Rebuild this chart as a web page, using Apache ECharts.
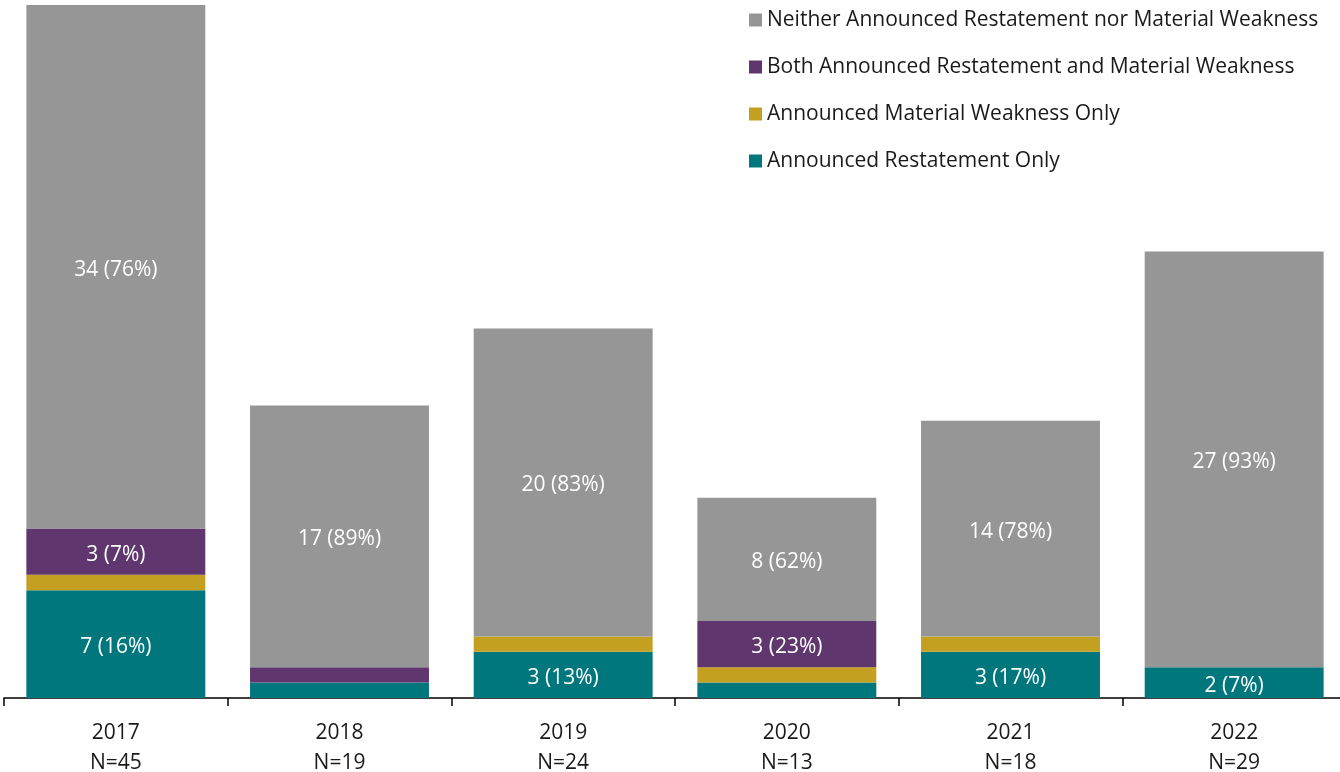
<!DOCTYPE html>
<html>
<head>
<meta charset="utf-8">
<script src="https://cdn.jsdelivr.net/npm/echarts@6/dist/echarts.min.js"></script>
<style>html,body{margin:0;padding:0;background:#fff}#c{width:1340px;height:772px}</style>
</head>
<body>
<div id="c"></div>
<script>
var years = ['2017', '2018', '2019', '2020', '2021', '2022'];
var totals = [45, 19, 24, 13, 18, 29];
var restatementOnly = [7, 1, 3, 1, 3, 2];
var weaknessOnly = [1, 0, 1, 1, 1, 0];
var both = [3, 1, 0, 3, 0, 0];
var neither = [34, 17, 20, 8, 14, 27];

var names = [
  'Announced Restatement Only',
  'Announced Material Weakness Only',
  'Both Announced Restatement and Material Weakness',
  'Neither Announced Restatement nor Material Weakness'
];
var colors = ['#00777d', '#c4a020', '#5f366e', '#969696'];
var values = [restatementOnly, weaknessOnly, both, neither];
var FONT = 'Open Sans';

var categories = years.map(function (y, i) { return y + '\nN=' + totals[i]; });

var series = values.map(function (arr, k) {
  return {
    name: names[k],
    type: 'bar',
    stack: 'total',
    barWidth: '80%',
    data: arr,
    itemStyle: { color: colors[k] },
    label: {
      show: true,
      position: 'inside',
      offset: [0, 3],
      color: '#ffffff',
      fontFamily: FONT,
      fontSize: 21,
      formatter: function (p) {
        if (p.value < 2) return '';
        var pct = Math.round(p.value / totals[p.dataIndex] * 100);
        return p.value + ' (' + pct + '%)';
      }
    }
  };
});

var chart = echarts.init(document.getElementById('c'));
chart.setOption({
  animation: false,
  textStyle: { fontFamily: FONT },
  grid: { left: 4, top: 5, bottom: 74, width: 1342, containLabel: false, outerBoundsMode: 'none' },
  legend: {
    orient: 'vertical',
    left: 744,
    top: 4,
    itemWidth: 13,
    itemHeight: 13,
    itemGap: 25,
    icon: 'rect',
    data: [names[3], names[2], names[1], names[0]],
    textStyle: { fontFamily: FONT, fontSize: 21, lineHeight: 22, color: '#1a1a1a' }
  },
  xAxis: {
    type: 'category',
    data: categories,
    axisLine: { lineStyle: { color: '#000', width: 1.5 } },
    axisTick: { show: true, length: 8, lineStyle: { color: '#000', width: 1.5 } },
    axisLabel: { color: '#1a1a1a', fontFamily: FONT, fontSize: 21, lineHeight: 30, margin: 20, interval: 0 }
  },
  yAxis: {
    type: 'value',
    min: 0,
    max: 45,
    show: false,
    splitLine: { show: false }
  },
  series: series
});
</script>
</body>
</html>
